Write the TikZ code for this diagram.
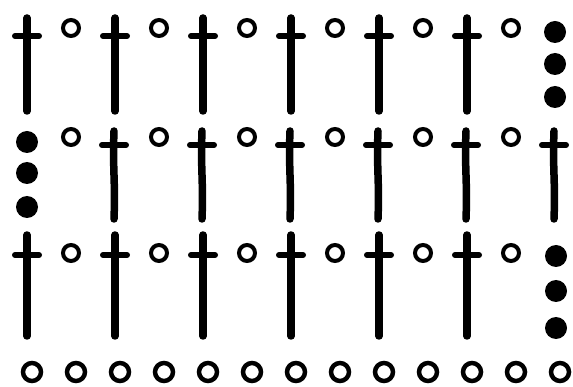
\documentclass[tikz,border=0pt]{standalone}
\tikzset{
  stem/.style={line width=7.5pt, line cap=round},
  bar/.style={line width=6pt, line cap=round},
  ring/.style={circle, draw, line width=4pt, minimum size=16pt, inner sep=0pt},
  bigring/.style={circle, draw, line width=4.5pt, minimum size=18pt, inner sep=0pt},
  dot/.style={circle, fill, minimum size=22pt, inner sep=0pt},
}
\begin{document}
\begin{tikzpicture}[x=1pt,y=-1pt]
\useasboundingbox (0,0) rectangle (573,387);
% row 1
\foreach \k in {0,...,5}{
  \pgfmathsetmacro{\cx}{27+88*\k}
  \pgfmathsetmacro{\ox}{71+88*\k}
  \coordinate (ra\k) at (\cx,18);
  \coordinate (rb\k) at (\cx,111);
  \draw[stem] (ra\k) -- (rb\k);
  \draw[bar] (\cx-12,36) -- (\cx+12,36);
  \node[ring] (ro\k) at (\ox,28) {};
}
\node[dot] (rd1) at (555,32) {};
\node[dot] (rd2) at (555,64) {};
\node[dot] (rd3) at (555,97) {};
% row 2
\node[dot] (sd1) at (27,142) {};
\node[dot] (sd2) at (27,173) {};
\node[dot] (sd3) at (27,207) {};
\foreach \k in {0,...,5}{
  \pgfmathsetmacro{\cx}{114+88*\k}
  \pgfmathsetmacro{\ox}{71+88*\k}
  \coordinate (sa\k) at (\cx,131);
  \coordinate (sb\k) at (\cx,219);
  \draw[stem] (sa\k) .. controls (\cx-1.5,170) and (\cx+1.5,180) .. (sb\k);
  \draw[bar] (\cx-12,145) -- (\cx+12,145);
  \node[ring] (so\k) at (\ox,137) {};
}
% row 3
\foreach \k in {0,...,5}{
  \pgfmathsetmacro{\cx}{27+88*\k}
  \pgfmathsetmacro{\ox}{71+88*\k}
  \coordinate (ta\k) at (\cx,235);
  \coordinate (tb\k) at (\cx,336);
  \draw[stem] (ta\k) -- (tb\k);
  \draw[bar] (\cx-12,255) -- (\cx+12,255);
  \node[ring] (to\k) at (\ox,253) {};
}
\node[dot] (td1) at (556,256) {};
\node[dot] (td2) at (556,291) {};
\node[dot] (td3) at (556,328) {};
% bottom chain
\foreach \k in {0,...,12}{
  \node[bigring] (bo\k) at ({32+44*\k},372) {};
}
\end{tikzpicture}
\end{document}
